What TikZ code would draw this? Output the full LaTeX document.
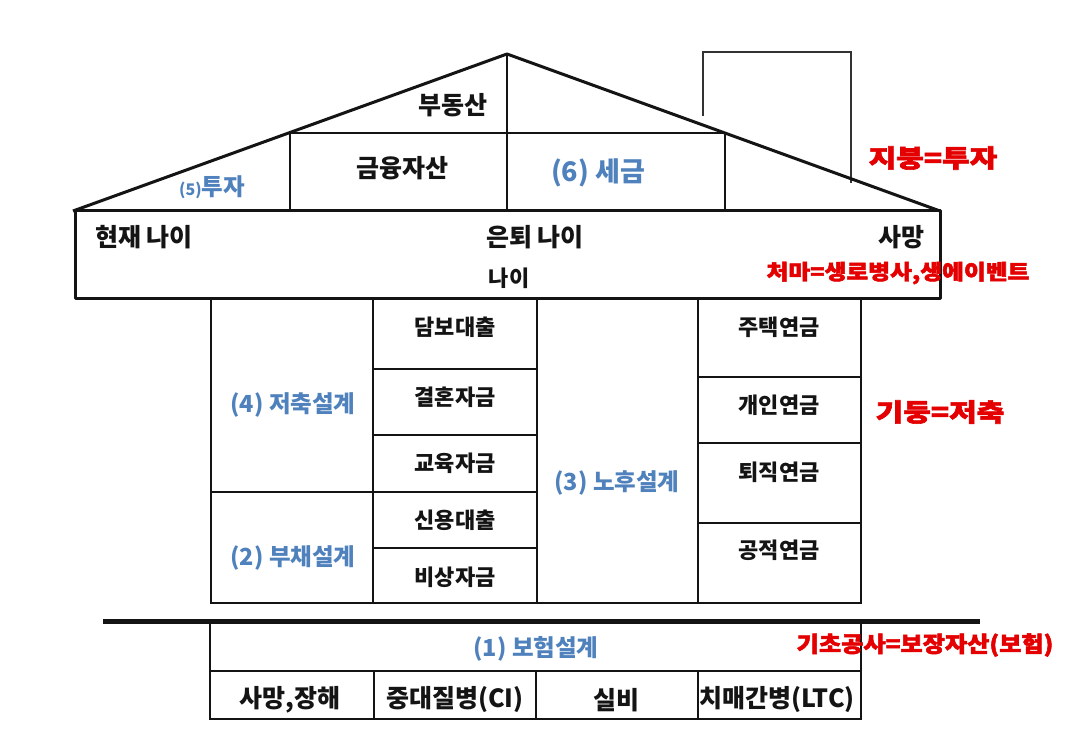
\documentclass[tikz,border=0pt]{standalone}
\usepackage{fontspec}
\setmainfont{Noto Sans CJK KR}
\newfontfamily\heavykr{Noto Sans CJK KR}[FakeBold=2.2]
\definecolor{planblue}{RGB}{79,129,189}
\definecolor{notered}{RGB}{228,0,0}
\definecolor{ink}{RGB}{20,20,20}
\definecolor{chimgray}{RGB}{50,50,50}
\tikzset{
  roofline/.style={line width=3pt, line join=round, draw=ink},
  cellline/.style={line width=1.5pt, draw=ink},
  tabline/.style={line width=1.8pt, draw=ink},
  chimline/.style={line width=1.8pt, draw=chimgray},
  lbl/.style={inner sep=0pt, text=ink, font=\fontsize{22}{26}\selectfont\bfseries},
  biglbl/.style={inner sep=0pt, text=ink, font=\fontsize{25}{29}\selectfont\bfseries},
  plan/.style={inner sep=0pt, text=planblue, font=\fontsize{23.5}{28}\selectfont\bfseries},
  bigplan/.style={inner sep=0pt, text=planblue, font=\fontsize{27}{31}\selectfont\bfseries},
  note/.style={inner sep=0pt, text=notered, font=\heavykr\fontsize{22}{26}\selectfont\bfseries},
  smallnote/.style={inner sep=0pt, text=notered, font=\heavykr\fontsize{21}{25}\selectfont\bfseries},
  bignote/.style={inner sep=0pt, text=notered, font=\heavykr\fontsize{25}{29}\selectfont\bfseries}
}
\begin{document}
\begin{tikzpicture}[x=1pt,y=-1pt]
\fill[white] (0,0) rectangle (1080,743);
\useasboundingbox (0,0) rectangle (1080,743);
% chimney
\draw[chimline] (703,116) -- (703,52) -- (851,52) -- (851,183);
% roof interior
\draw[cellline] (289,133) -- (725,133);
\draw[cellline] (290,133) -- (290,211);
\draw[cellline] (507,54) -- (507,211);
\draw[cellline] (725,133) -- (725,211);
% roof
\draw[roofline] (73,211) -- (507,54) -- (940,211);
% eave
\draw[roofline] (75,211) rectangle (940,299);
% upper table
\draw[tabline] (211,299) -- (211,603) -- (861,603) -- (861,299);
\foreach \xx in {373,537,698} \draw[tabline] (\xx,299) -- (\xx,603);
\draw[tabline] (211,492) -- (373,492);
\foreach \yy in {369,435,492,548} \draw[tabline] (373,\yy) -- (537,\yy);
\foreach \yy in {377,443,523} \draw[tabline] (698,\yy) -- (861,\yy);
% ground
\draw[line width=5pt, draw=ink] (103,621) -- (980,621);
% lower table
\draw[tabline] (210,621) -- (210,719) -- (861,719) -- (861,621);
\draw[tabline] (210,671) -- (861,671);
\foreach \xx in {374,536,698} \draw[tabline] (\xx,671) -- (\xx,719);
% roof texts
\node[biglbl] (budong) at (453,105) {부동산};
\node[biglbl] (geumyung) at (402,168) {금융자산};
\node[plan] (tuja) at (212,187) {{\fontsize{16}{19}\selectfont(5)}투자};
\node[bigplan] (segeum) at (598,173) {(6) 세금};
\node[biglbl] (hyeonjae) at (144,237) {현재 나이};
\node[biglbl] (euntoe) at (535,237) {은퇴 나이};
\node[biglbl] (sawang) at (901,237) {사망};
\node[lbl] (nai) at (509,278) {나이};
% upper table texts
\node[plan] (jeochuk) at (293,405) {(4) 저축설계};
\node[plan] (buchae) at (293,558) {(2) 부채설계};
\node[plan] (nohu) at (617,483) {(3) 노후설계};
\node[lbl] (dambo) at (455,327) {담보대출};
\node[lbl] (gyeolhon) at (455,397) {결혼자금};
\node[lbl] (gyoyuk) at (455,463) {교육자금};
\node[lbl] (sinyong) at (455,520) {신용대출};
\node[lbl] (bisang) at (455,577) {비상자금};
\node[lbl] (jutaek) at (779,327) {주택연금};
\node[lbl] (gaein) at (779,405) {개인연금};
\node[lbl] (toejik) at (779,472) {퇴직연금};
\node[lbl] (gongjeok) at (779,550) {공적연금};
% lower table texts
\node[plan] (boheom) at (536,649) {(1) 보험설계};
\node[biglbl] (sajang) at (290,700) {사망,장해};
\node[biglbl] (jungdae) at (455,700) {중대질병(CI)};
\node[biglbl] (silbi) at (616,700) {실비};
\node[biglbl] (chimae) at (777,700) {치매간병(LTC)};
% red notes
\node[bignote, xscale=1.2] (jibung) at (933,158) {지붕=투자};
\node[smallnote, xscale=1.13] (cheoma) at (898,273) {처마=생로병사,생에이벤트};
\node[bignote, xscale=1.2] (gidung) at (940,412) {기둥=저축};
\node[note, xscale=1.1] (gicho) at (925,645) {기초공사=보장자산(보험)};
\end{tikzpicture}
\end{document}
